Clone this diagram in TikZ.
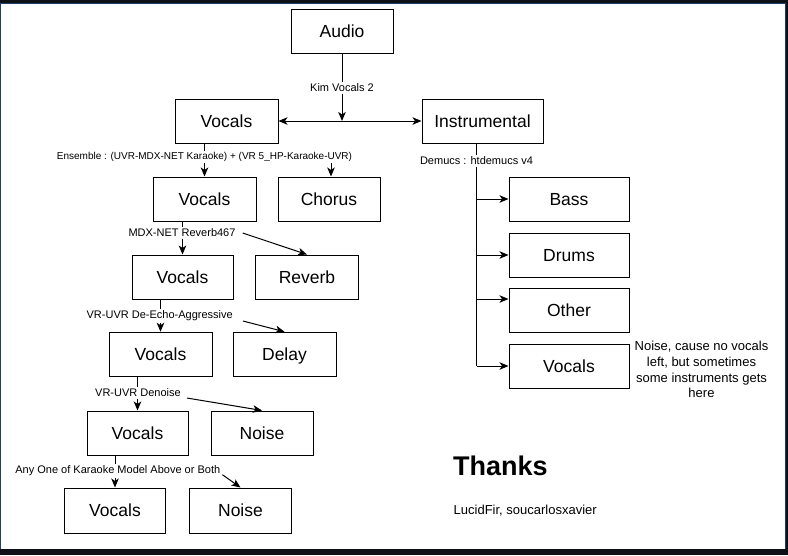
\documentclass[tikz,border=0pt]{standalone}
\usepackage{fontspec}
\setmainfont{Liberation Sans}
\usetikzlibrary{arrows.meta}
\definecolor{darkbg}{RGB}{13,17,23}
\definecolor{edgeblue}{RGB}{35,62,105}
\begin{document}
\begin{tikzpicture}[x=1pt,y=-1pt,
  bx/.style={draw=black,line width=1pt,fill=white,minimum width=102pt,minimum height=44.5pt,inner sep=0pt,text height=12.5pt,text depth=0pt,font=\fontsize{17.5}{20}\selectfont},
  lbl/.style={inner xsep=1pt,inner ysep=1.5pt,font=\fontsize{11}{13}\selectfont},
  ar/.style={line width=1pt,-{Stealth[length=9pt,width=7.5pt,inset=2.5pt]}},
  dar/.style={line width=1pt,{Stealth[length=9pt,width=7.5pt,inset=2.5pt]}-{Stealth[length=9pt,width=7.5pt,inset=2.5pt]}},
  ln/.style={line width=1pt}]
\useasboundingbox (0,0) rectangle (788,555);
% frame
\fill[darkbg] (0,0) rectangle (788,555);
\fill[edgeblue] (0,3) rectangle (785.5,549);
\fill[white] (1,3.5) rectangle (784.5,548.5);

% boxes
\node[bx] (audio) at (342,31.5) {Audio};
\node[bx,minimum width=103pt,minimum height=44pt] (voc1) at (226.5,121) {Vocals};
\node[bx,minimum width=121pt,minimum height=44pt] (inst) at (482.5,121) {Instrumental};
\node[bx,minimum width=103pt,minimum height=44pt] (voc2) at (204.5,199) {Vocals};
\node[bx,minimum height=44pt] (chorus) at (329,199) {Chorus};
\node[bx,minimum width=101pt,minimum height=44pt] (voc3) at (182.5,277) {Vocals};
\node[bx,minimum width=103pt,minimum height=44pt] (reverb) at (307,277) {Reverb};
\node[bx,minimum width=103pt] (voc4) at (160.5,354.5) {Vocals};
\node[bx,minimum width=103pt] (delay) at (284.5,354.5) {Delay};
\node[bx,minimum width=101pt,minimum height=44pt] (voc5) at (137.5,433) {Vocals};
\node[bx,minimum height=44pt] (noise1) at (262,433) {Noise};
\node[bx,minimum width=101pt,minimum height=45pt] (voc6) at (115,510.5) {Vocals};
\node[bx,minimum height=45pt] (noise2) at (240.5,510.5) {Noise};

\node[bx,minimum width=120pt,minimum height=44pt] (bass) at (569,199) {Bass};
\node[bx,minimum width=120pt,minimum height=44pt] (drums) at (569,255) {Drums};
\node[bx,minimum width=120pt,minimum height=44pt] (other) at (569,310) {Other};
\node[bx,minimum width=120pt,minimum height=44pt] (voc7) at (569,366) {Vocals};

% labels
\node[lbl] (kim) at (342,88) {Kim Vocals 2};
\node[lbl,font=\fontsize{10}{12}\selectfont] (ens) at (204.5,157) {Ensemble : (UVR-MDX-NET Karaoke) + (VR 5\_HP-Karaoke-UVR)};
\node[lbl] (mdx) at (182,233) {MDX-NET Reverb467};
\node[lbl] (echo) at (159.7,316) {VR-UVR De-Echo-Aggressive};
\node[lbl] (den) at (138,393) {VR-UVR Denoise};
\node[lbl] (any) at (117.8,470.7) {Any One of Karaoke Model Above or Both};
\node[lbl] (dem) at (476.5,161) {Demucs : htdemucs v4};

% top split
\coordinate (j) at (342,121);
\draw[ln] (audio.south) -- (kim.north);
\draw[ar] (kim.south) -- (j);
\draw[dar] (voc1.east) -- (inst.west);

% vocal chain
\draw[ln] (voc1.south -| voc2.north) -- (ens.north -| voc2.north);
\draw[ar] (ens.south -| voc2.north) -- (voc2.north);
\draw[ar] ([xshift=2pt]ens.south -| chorus.north) -- ([xshift=2pt]chorus.north);

\draw[ln] (voc2.south -| voc3.north) -- (mdx.north -| voc3.north);
\draw[ar] (mdx.south -| voc3.north) -- (voc3.north);
\draw[ar] ([xshift=6pt]mdx.east) -- (reverb.north);

\draw[ln] (voc3.south -| voc4.north) -- (echo.north -| voc4.north);
\draw[ar] (echo.south -| voc4.north) -- (voc4.north);
\draw[ar] ([xshift=9pt,yshift=-5pt]echo.east) -- (delay.north);

\draw[ln] (voc4.south -| voc5.north) -- (den.north -| voc5.north);
\draw[ar] (den.south -| voc5.north) -- (voc5.north);
\draw[ar] ([xshift=5pt,yshift=-5pt]den.east) -- (noise1.north);

\draw[ln] (voc5.south -| voc6.north) -- (any.north -| voc6.north);
\draw[ar] (any.south -| voc6.north) -- (voc6.north);
\draw[ar] ([xshift=1pt,yshift=-4pt]any.east) -- (noise2.north);

% demucs branch
\coordinate (trunk) at (476.5,366);
\draw[ln] (inst.south -| trunk) -- (dem.north -| trunk);
\draw[ln] (dem.south -| trunk) -- (trunk);
\draw[ar] (bass.west -| trunk) -- (bass.west);
\draw[ar] (drums.west -| trunk) -- (drums.west);
\draw[ar] ([yshift=11pt]other.west -| trunk) -- ([yshift=11pt]other.west);
\draw[ar] (trunk) -- (voc7.west);

% note
\node[align=center,inner sep=0pt,font=\fontsize{13}{15.8}\selectfont] (note) at (701.5,369.5)
  {Noise, cause no vocals\\left, but sometimes\\some instruments gets\\here};

% thanks
\node[anchor=base west,inner sep=0pt,font=\fontsize{27}{30}\selectfont\bfseries] (thanks) at (453,475) {Thanks};
\node[anchor=base west,inner sep=0pt,font=\fontsize{13}{15}\selectfont] (names) at (453.5,514) {LucidFir, soucarlosxavier};
\end{tikzpicture}
\end{document}
